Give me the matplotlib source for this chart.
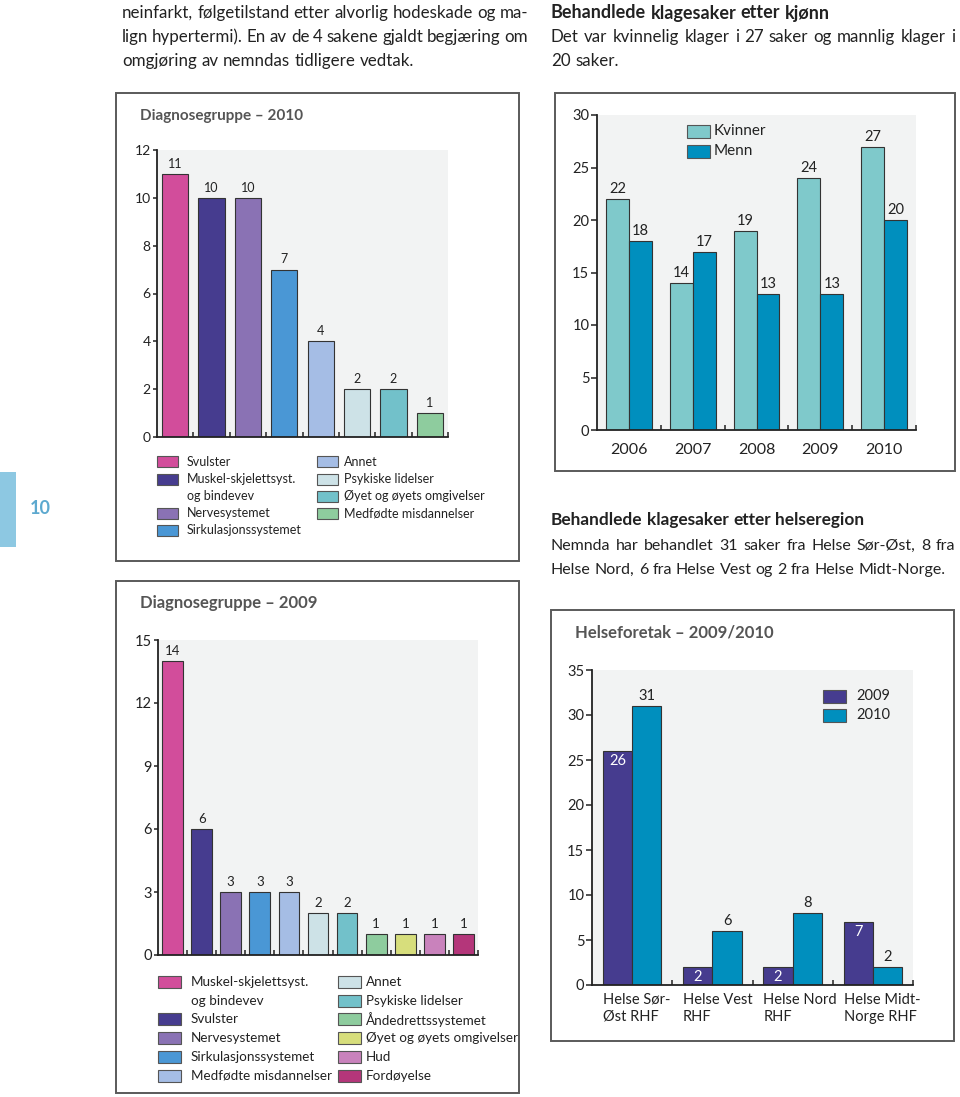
import matplotlib
matplotlib.use('Agg')
import matplotlib.pyplot as plt
from matplotlib import font_manager as fm
from matplotlib.patches import Rectangle
import numpy as np

# ---------------- data ----------------
diag2010_labels = ['Svulster', 'Muskel-skjelettsyst.\nog bindevev', 'Nervesystemet',
                   'Sirkulasjonssystemet', 'Annet', 'Psykiske lidelser',
                   'Øyet og øyets omgivelser', 'Medfødte misdannelser']
diag2010_values = [11, 10, 10, 7, 4, 2, 2, 1]
diag2010_colors = ['#D24D9B', '#463C8F', '#8A72B4', '#4A97D5', '#A5BDE5', '#CDE2E7',
                   '#72C1CA', '#8ECC9E']

diag2009_labels = ['Muskel-skjelettsyst.\nog bindevev', 'Svulster', 'Nervesystemet',
                   'Sirkulasjonssystemet', 'Medfødte misdannelser', 'Annet',
                   'Psykiske lidelser', 'Åndedrettssystemet', 'Øyet og øyets omgivelser',
                   'Hud', 'Fordøyelse']
diag2009_values = [14, 6, 3, 3, 3, 2, 2, 1, 1, 1, 1]
diag2009_colors = ['#D24D9B', '#463C8F', '#8A72B4', '#4A97D5', '#A5BDE5', '#CDE2E7',
                   '#72C1CA', '#8ECC9E', '#D7DE7C', '#C982BC', '#B4367A']

years = ['2006', '2007', '2008', '2009', '2010']
kvinner = [22, 14, 19, 24, 27]
menn = [18, 17, 13, 13, 20]
gender_labels = ['Kvinner', 'Menn']
gender_colors = ['#7FC9CB', '#008FBE']

regions = ['Helse Sør-\nØst RHF', 'Helse Vest\nRHF', 'Helse Nord\nRHF', 'Helse Midt-\nNorge RHF']
hf2009 = [26, 2, 2, 7]
hf2010 = [31, 6, 8, 2]
hf_labels = ['2009', '2010']
hf_colors = ['#463C8F', '#008FBE']

text_left = ['neinfarkt, følgetilstand etter alvorlig hodeskade og ma-',
             'lign hypertermi). En av de 4 sakene gjaldt begjæring om',
             'omgjøring av nemndas tidligere vedtak.']
head_kjonn = 'Behandlede klagesaker etter kjønn'
text_kjonn = ['Det var kvinnelig klager i 27 saker og mannlig klager i',
              '20 saker.']
head_region = 'Behandlede klagesaker etter helseregion'
text_region = ['Nemnda har behandlet 31 saker fra Helse Sør-Øst, 8 fra',
               'Helse Nord, 6 fra Helse Vest og 2 fra Helse Midt-Norge.']

# ---------------- setup ----------------
W, H = 960, 1097
DPI = 100
avail = {f.name for f in fm.fontManager.ttflist}
FONT = 'Lato' if 'Lato' in avail else 'DejaVu Sans'
NARROW = 'Liberation Sans Narrow' if 'Liberation Sans Narrow' in avail else FONT
plt.rcParams['font.family'] = [FONT, 'DejaVu Sans']

fig = plt.figure(figsize=(W / DPI, H / DPI), dpi=DPI)
fig.patch.set_facecolor('white')
renderer = fig.canvas.get_renderer()

TXT = '#222222'
TITLE = '#555555'
BG = '#F2F3F3'


def fx(x):
    return x / W


def fy(y):
    return 1 - y / H


def add_ax(x0, y0, x1, y1):
    return fig.add_axes([x0 / W, 1 - y1 / H, (x1 - x0) / W, (y1 - y0) / H])


def frame(x0, y0, x1, y1):
    fig.patches.append(Rectangle((fx(x0), fy(y1)), (x1 - x0) / W, (y1 - y0) / H,
                                 transform=fig.transFigure, fill=False,
                                 edgecolor='#5a5a5a', lw=1.4))


def swatch(x0, y0, w, h, color):
    fig.patches.append(Rectangle((fx(x0), fy(y0 + h)), w / W, h / H,
                                 transform=fig.transFigure, facecolor=color,
                                 edgecolor='#555555', lw=0.8))


def justified(line, x0, x1, y, size, family, weight='normal', color=TXT, justify=True):
    fp = fm.FontProperties(family=[family, 'DejaVu Sans'], size=size, weight=weight)
    words = line.split(' ')
    widths = [renderer.get_text_width_height_descent(w, fp, ismath=False)[0] for w in words]
    space = renderer.get_text_width_height_descent('a b', fp, ismath=False)[0] - \
        renderer.get_text_width_height_descent('ab', fp, ismath=False)[0]
    if justify and len(words) > 1:
        gap = (x1 - x0 - sum(widths)) / (len(words) - 1)
    else:
        gap = space
    x = x0
    for w, wd in zip(words, widths):
        fig.text(fx(x), fy(y), w, fontproperties=fp, color=color, va='center', ha='left')
        x += wd + gap


def style(ax, n, ymax, step, ysize, tlen=3.0):
    ax.set_facecolor(BG)
    ax.set_xlim(-0.5, n - 0.5)
    ax.set_ylim(0, ymax)
    ax.set_yticks(np.arange(0, ymax + 0.01, step))
    for s in ['top', 'right']:
        ax.spines[s].set_visible(False)
    for s in ['left', 'bottom']:
        ax.spines[s].set_color('#222222')
        ax.spines[s].set_linewidth(1.3)
    ax.tick_params(axis='y', direction='out', length=tlen, width=1.1, pad=1.5,
                   labelsize=ysize, colors=TXT)
    ax.set_xticks(np.arange(0.5, n, 1.0), minor=True)
    ax.tick_params(axis='x', which='minor', direction='in', length=3.5, width=1.1, color='#222222')
    ax.tick_params(axis='x', which='major', length=0)


def legend_rows(items, colors, x_patch, x_text, y_start, pitch, pw, ph, size):
    row = 0
    for lab, col in zip(items, colors):
        lines = lab.split('\n')
        y = y_start + row * pitch
        swatch(x_patch, y - ph / 2, pw, ph, col)
        for k, ln in enumerate(lines):
            fig.text(fx(x_text), fy(y + k * pitch), ln, fontsize=size, color=TXT,
                     va='center', ha='left')
        row += len(lines)


def inside_labels(ax, xs, vals, size):
    for xv, v in zip(xs, vals):
        ax.annotate(str(v), xy=(xv, v), xytext=(0, -3), textcoords='offset pixels',
                    ha='center', va='top', fontsize=size, color='white')


# ---------------- body text ----------------
for i, ln in enumerate(text_left):
    justified(ln, 122, 528, 13 + 24 * i, 12.2, NARROW, justify=(i < len(text_left) - 1))
justified(head_kjonn, 551, 955, 13, 13, NARROW, weight='bold', justify=False)
for i, ln in enumerate(text_kjonn):
    justified(ln, 551, 955, 37 + 24 * i, 12.2, NARROW, justify=(i < len(text_kjonn) - 1))
justified(head_region, 551, 955, 520, 12.4, FONT, weight='bold', justify=False)
for i, ln in enumerate(text_region):
    justified(ln, 551, 955, 546 + 24 * i, 11.5, FONT, justify=(i < len(text_region) - 1))

# side tab
fig.patches.append(Rectangle((0, fy(547)), 16 / W, (547 - 472) / H, transform=fig.transFigure,
                             facecolor='#8DC8E2', edgecolor='none'))
fig.text(fx(40), fy(509), '10', fontsize=13, color='#5DA9CF', ha='center', va='center',
         weight='bold')

# ---------------- panel 1: Diagnosegruppe 2010 ----------------
frame(116, 93, 519, 561)
fig.text(fx(140), fy(116), 'Diagnosegruppe – 2010', fontsize=11, color=TITLE,
         ha='left', va='center', weight='bold')
ax1 = add_ax(157, 150, 448, 437)
style(ax1, len(diag2010_values), 12, 2, 10)
x1 = np.arange(len(diag2010_values))
b1 = ax1.bar(x1, diag2010_values, width=0.72, color=diag2010_colors, edgecolor='#333333', lw=0.8)
ax1.bar_label(b1, padding=3, fontsize=9, color=TXT)
ax1.set_xticks(x1)
ax1.set_xticklabels([])
legend_rows(diag2010_labels[:4], diag2010_colors[:4], 157, 187, 462, 17.1, 21, 11, 9)
legend_rows(diag2010_labels[4:], diag2010_colors[4:], 317, 344, 462, 17.1, 21, 11, 9)

# ---------------- panel 2: Diagnosegruppe 2009 ----------------
frame(116, 581, 519, 1093)
fig.text(fx(140), fy(603), 'Diagnosegruppe – 2009', fontsize=12, color=TITLE,
         ha='left', va='center', weight='bold')
ax2 = add_ax(158, 640, 478, 955)
style(ax2, len(diag2009_values), 15, 3, 10.5)
x2 = np.arange(len(diag2009_values))
b2 = ax2.bar(x2, diag2009_values, width=0.71, color=diag2009_colors, edgecolor='#333333', lw=0.8)
ax2.bar_label(b2, padding=3, fontsize=9.5, color=TXT)
ax2.set_xticks(x2)
ax2.set_xticklabels([])
legend_rows(diag2009_labels[:5], diag2009_colors[:5], 158, 191, 982, 18.7, 23, 12, 9.7)
legend_rows(diag2009_labels[5:], diag2009_colors[5:], 338, 366, 982, 18.7, 23, 12, 9.7)

# ---------------- panel 3: kjønn ----------------
frame(555, 93, 955, 471)
ax3 = add_ax(597, 115, 916, 430)
style(ax3, len(years), 30, 5, 10.5, tlen=4)
x3 = np.arange(len(years))
bw = 0.36
b3a = ax3.bar(x3 - bw / 2, kvinner, width=bw, color=gender_colors[0], edgecolor='#333333', lw=0.8)
b3b = ax3.bar(x3 + bw / 2, menn, width=bw, color=gender_colors[1], edgecolor='#333333', lw=0.8)
ax3.bar_label(b3a, padding=2, fontsize=10.5, color=TXT)
ax3.bar_label(b3b, padding=2, fontsize=10.5, color=TXT)
ax3.set_xticks(x3)
ax3.set_xticklabels(years, fontsize=11.5, color=TXT)
ax3.tick_params(axis='x', which='major', pad=9)
for i, (lab, col) in enumerate(zip(gender_labels, gender_colors)):
    y = 131 + 20 * i
    swatch(687, y - 6.5, 22.5, 13, col)
    fig.text(fx(714), fy(y), lab, fontsize=11, color=TXT, ha='left', va='center')

# ---------------- panel 4: Helseforetak ----------------
frame(551, 610, 954, 1041)
fig.text(fx(575), fy(633), 'Helseforetak – 2009/2010', fontsize=12, color=TITLE,
         ha='left', va='center', weight='bold')
ax4 = add_ax(592, 670, 913, 985)
style(ax4, len(regions), 35, 5, 10.5, tlen=4)
x4 = np.arange(len(regions))
bw4 = 0.366
b4a = ax4.bar(x4 - bw4 / 2, hf2009, width=bw4, color=hf_colors[0], edgecolor='#333333', lw=0.8)
b4b = ax4.bar(x4 + bw4 / 2, hf2010, width=bw4, color=hf_colors[1], edgecolor='#333333', lw=0.8)
inside_labels(ax4, x4 - bw4 / 2, hf2009, 10.5)
ax4.bar_label(b4b, padding=2, fontsize=10.5, color=TXT)
ax4.set_xticks(x4)
ax4.set_xticklabels([])
for xi, lab in zip(x4, regions):
    ax4.annotate(lab, xy=(xi - bw4, 0), xycoords=('data', 'axes fraction'),
                 xytext=(0, -8), textcoords='offset pixels', ha='left', va='top',
                 fontsize=10.5, color=TXT, linespacing=1.25)
for i, (lab, col) in enumerate(zip(hf_labels, hf_colors)):
    y = 696 + 19 * i
    swatch(823, y - 6.5, 23, 13, col)
    fig.text(fx(856), fy(y), lab, fontsize=10.5, color=TXT, ha='left', va='center')

fig.savefig('out.png', dpi=DPI)
